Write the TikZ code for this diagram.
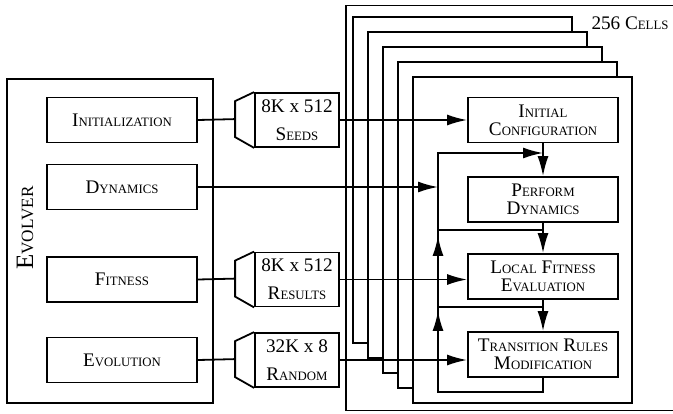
\documentclass[tikz,border=0pt]{standalone}
\usepackage{fontspec}
\setmainfont{Liberation Serif}
\usetikzlibrary{arrows.meta,calc}
% small caps by hand: big first letter, small rest
\newcommand{\fsc}[2]{{\fontsize{9.6}{9}\selectfont #1}{\fontsize{6.4}{9}\selectfont #2}}

\begin{document}
\begin{tikzpicture}[x=0.5pt,y=-0.5pt,line width=0.9pt,>={Latex[length=10pt,width=5.5pt]},
  font=\fontsize{9.6}{9}\selectfont,
  box/.style={draw,minimum width=75pt,minimum height=22.5pt,inner sep=1pt,align=center},
  mem/.style={draw,minimum width=42pt,minimum height=27pt,inner sep=1pt,align=center}]
  \useasboundingbox (0,0) rectangle (673,413);
  % memory: \membox{name}{y}{size}{label}
  \newcommand{\membox}[4]{\node[mem] (#1) at (297,#2) {#3\\[5pt]#4};
     \draw (#1.north west) -- ++(-19,9) -- ++(0,36) coordinate[pos=0.5] (#1-in) -- (#1.south west);}
  % --- stack of cells ---
  \draw (673,5.5) -- (346,5.5) -- (346,410.5) -- (673,410.5);
  \foreach \i in {0,...,4}
    \draw[fill=white] (353+15*\i,17+15*\i) rectangle (572+15*\i,343+15*\i);
  \node (cells) at (630,23) {256 \fsc{C}{ELLS}};
  % --- evolver ---
  \draw (7,79) rectangle (213,403);
  \node[rotate=90] (evolver) at (25,228) {\fontsize{12.5}{12}\selectfont E\fontsize{8.6}{12}\selectfont VOLVER};
  \foreach \n/\y/\t in {init/120/{\fsc{I}{NITIALIZATION}}, dyn/187/{\fsc{D}{YNAMICS}},
      fit/279.5/{\fsc{F}{ITNESS}}, evo/360/{\fsc{E}{VOLUTION}}}
    \node[box] (\n) at (122,\y) {\t};
  % memories
  \membox{seeds}{120}{8K x 512}{\fsc{S}{EEDS}}
  \membox{results}{279.5}{8K x 512}{\fsc{R}{ESULTS}}
  \membox{random}{360}{32K x 8}{\fsc{R}{ANDOM}}
  % --- one cell ---
  \foreach \n/\y/\t in {initcfg/120/{\fsc{I}{NITIAL}\\\fsc{C}{ONFIGURATION}},
      perf/199.5/{\fsc{P}{ERFORM}\\\fsc{D}{YNAMICS}},
      localfit/276.5/{\fsc{L}{OCAL} \fsc{F}{ITNESS}\\\fsc{E}{VALUATION}},
      trans/354.5/{\fsc{T}{RANSITION} \fsc{R}{ULES}\\\fsc{M}{ODIFICATION}}}
    \node[box] (\n) at (543,\y) {\t};
  \coordinate (ret) at (438,153);
  \coordinate (bot) at (438,392);
  \coordinate (j1) at ($(perf.south)+(0,7)$);
  \coordinate (j2) at ($(localfit.south)+(0,7)$);
  % evolver -> memories -> cell
  \draw (init.east) -- (seeds-in);
  \draw (fit.east) -- (results-in);
  \draw (evo.east) -- (random-in);
  \draw[->] (seeds.east) -- (seeds.east -| initcfg.west);
  \draw[->] (results.east) -- (results.east -| localfit.west);
  \draw[->] (random.east) -- (random.east -| trans.west);
  \draw[->] (dyn.east) -- (dyn.east -| ret);
  % steps
  \draw[->] (initcfg.south) -- (perf.north);
  \draw[->] (perf.south) -- (localfit.north);
  \draw[->] (localfit.south) -- (trans.north);
  % feedback
  \draw[->] (trans.south) |- (bot) -- (ret) -- (ret -| initcfg.south);
  \draw (j1) -- (j1 -| ret);
  \draw (j2) -- (j2 -| ret);
  \draw[->] (bot) -- ($(j2 -| ret)+(0,4)$);
  \draw[->] (j2 -| ret) -- ($(j1 -| ret)+(0,6)$);
\end{tikzpicture}
\end{document}
